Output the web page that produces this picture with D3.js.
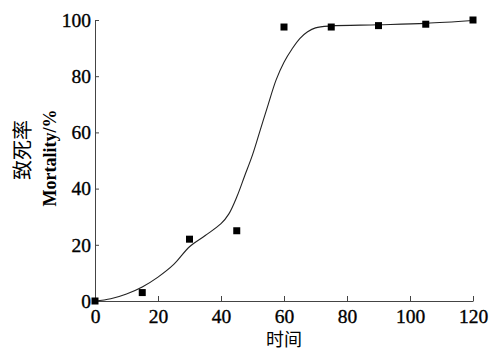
<!DOCTYPE html>
<html lang="zh">
<head>
<meta charset="UTF-8">
<title>致死率</title>
<script src="https://d3js.org/d3.v7.min.js"></script>
<style>
    body { margin: 0; background: #fff; }
    svg { display: block; background: #fff; }
    .axis text { font-family: "Liberation Serif", serif; font-size: 19.5px; fill: #000; stroke: #000; stroke-width: 0.35; }
    .axis path, .axis line { stroke: #444; stroke-width: 1; }
</style>
</head>
<body>
<div id="chart"></div>
<script>
// measured points
var timeX = [0, 15, 30, 45, 60, 75, 90, 105, 120];
var mortality = [0, 3, 22, 25, 97.5, 97.5, 98, 98.5, 100];

// fitted curve
var fitX = [0, 5, 10, 15, 20, 25, 30, 35, 40, 42.5, 45, 47.5, 50, 52.5, 55, 57.5, 60, 62.5, 65, 67.5, 70, 75, 90, 105, 120];
var fitY = [0, 0.8, 2.5, 5, 8.5, 13, 19.3, 23.3, 27.5, 31, 37, 44.5, 52, 61, 70, 78.7, 85, 89.6, 93.4, 95.8, 97.2, 97.9, 98.3, 98.8, 99.8];

var xTicks = [0, 20, 40, 60, 80, 100, 120];
var yTicks = [0, 20, 40, 60, 80, 100];

var width = 500, height = 354;

var svg = d3.select('#chart').append('svg')
    .attr('width', width)
    .attr('height', height);

var x = d3.scaleLinear().domain([0, 120]).range([95, 473]);
var y = d3.scaleLinear().domain([0, 100]).range([301, 20]);

// axes, ticks pointing inward
svg.append('g')
    .attr('class', 'axis')
    .attr('transform', 'translate(0,' + y(0) + ')')
    .call(d3.axisBottom(x).tickValues(xTicks).tickSize(-5).tickSizeOuter(0).tickPadding(8));

svg.append('g')
    .attr('class', 'axis')
    .attr('transform', 'translate(' + x(0) + ',0)')
    .call(d3.axisLeft(y).tickValues(yTicks).tickSize(-4).tickSizeOuter(0).tickPadding(4));

// fitted line
var line = d3.line()
    .x(d => x(d[0]))
    .y(d => y(d[1]))
    .curve(d3.curveCatmullRom.alpha(0.5));

svg.append('path')
    .datum(d3.zip(fitX, fitY))
    .attr('d', line)
    .attr('fill', 'none')
    .attr('stroke', '#222')
    .attr('stroke-width', 1.1);

// square markers
var s = 7;
svg.selectAll('rect.pt')
    .data(d3.zip(timeX, mortality))
    .enter()
    .append('rect')
    .attr('class', 'pt')
    .attr('x', d => x(d[0]) - s / 2)
    .attr('y', d => y(d[1]) - s / 2)
    .attr('width', s)
    .attr('height', s)
    .attr('fill', '#000');

// axis titles
svg.append('text')
    .attr('x', x(60))
    .attr('y', 346)
    .attr('text-anchor', 'middle')
    .style('font-family', '"Noto Sans CJK SC", sans-serif')
    .style('font-size', '18px')
    .style('fill', '#000')
    .text('时间');

svg.append('text')
    .attr('transform', 'translate(30,150) rotate(-90)')
    .attr('text-anchor', 'middle')
    .style('font-family', '"Noto Sans CJK SC", sans-serif')
    .style('font-size', '20px')
    .style('fill', '#000')
    .text('致死率');

svg.append('text')
    .attr('transform', 'translate(56,158) rotate(-90)')
    .attr('text-anchor', 'middle')
    .style('font-family', '"Liberation Serif", serif')
    .style('font-size', '18px')
    .style('font-weight', 'bold')
    .style('fill', '#000')
    .text('Mortality/%');
</script>
</body>
</html>
